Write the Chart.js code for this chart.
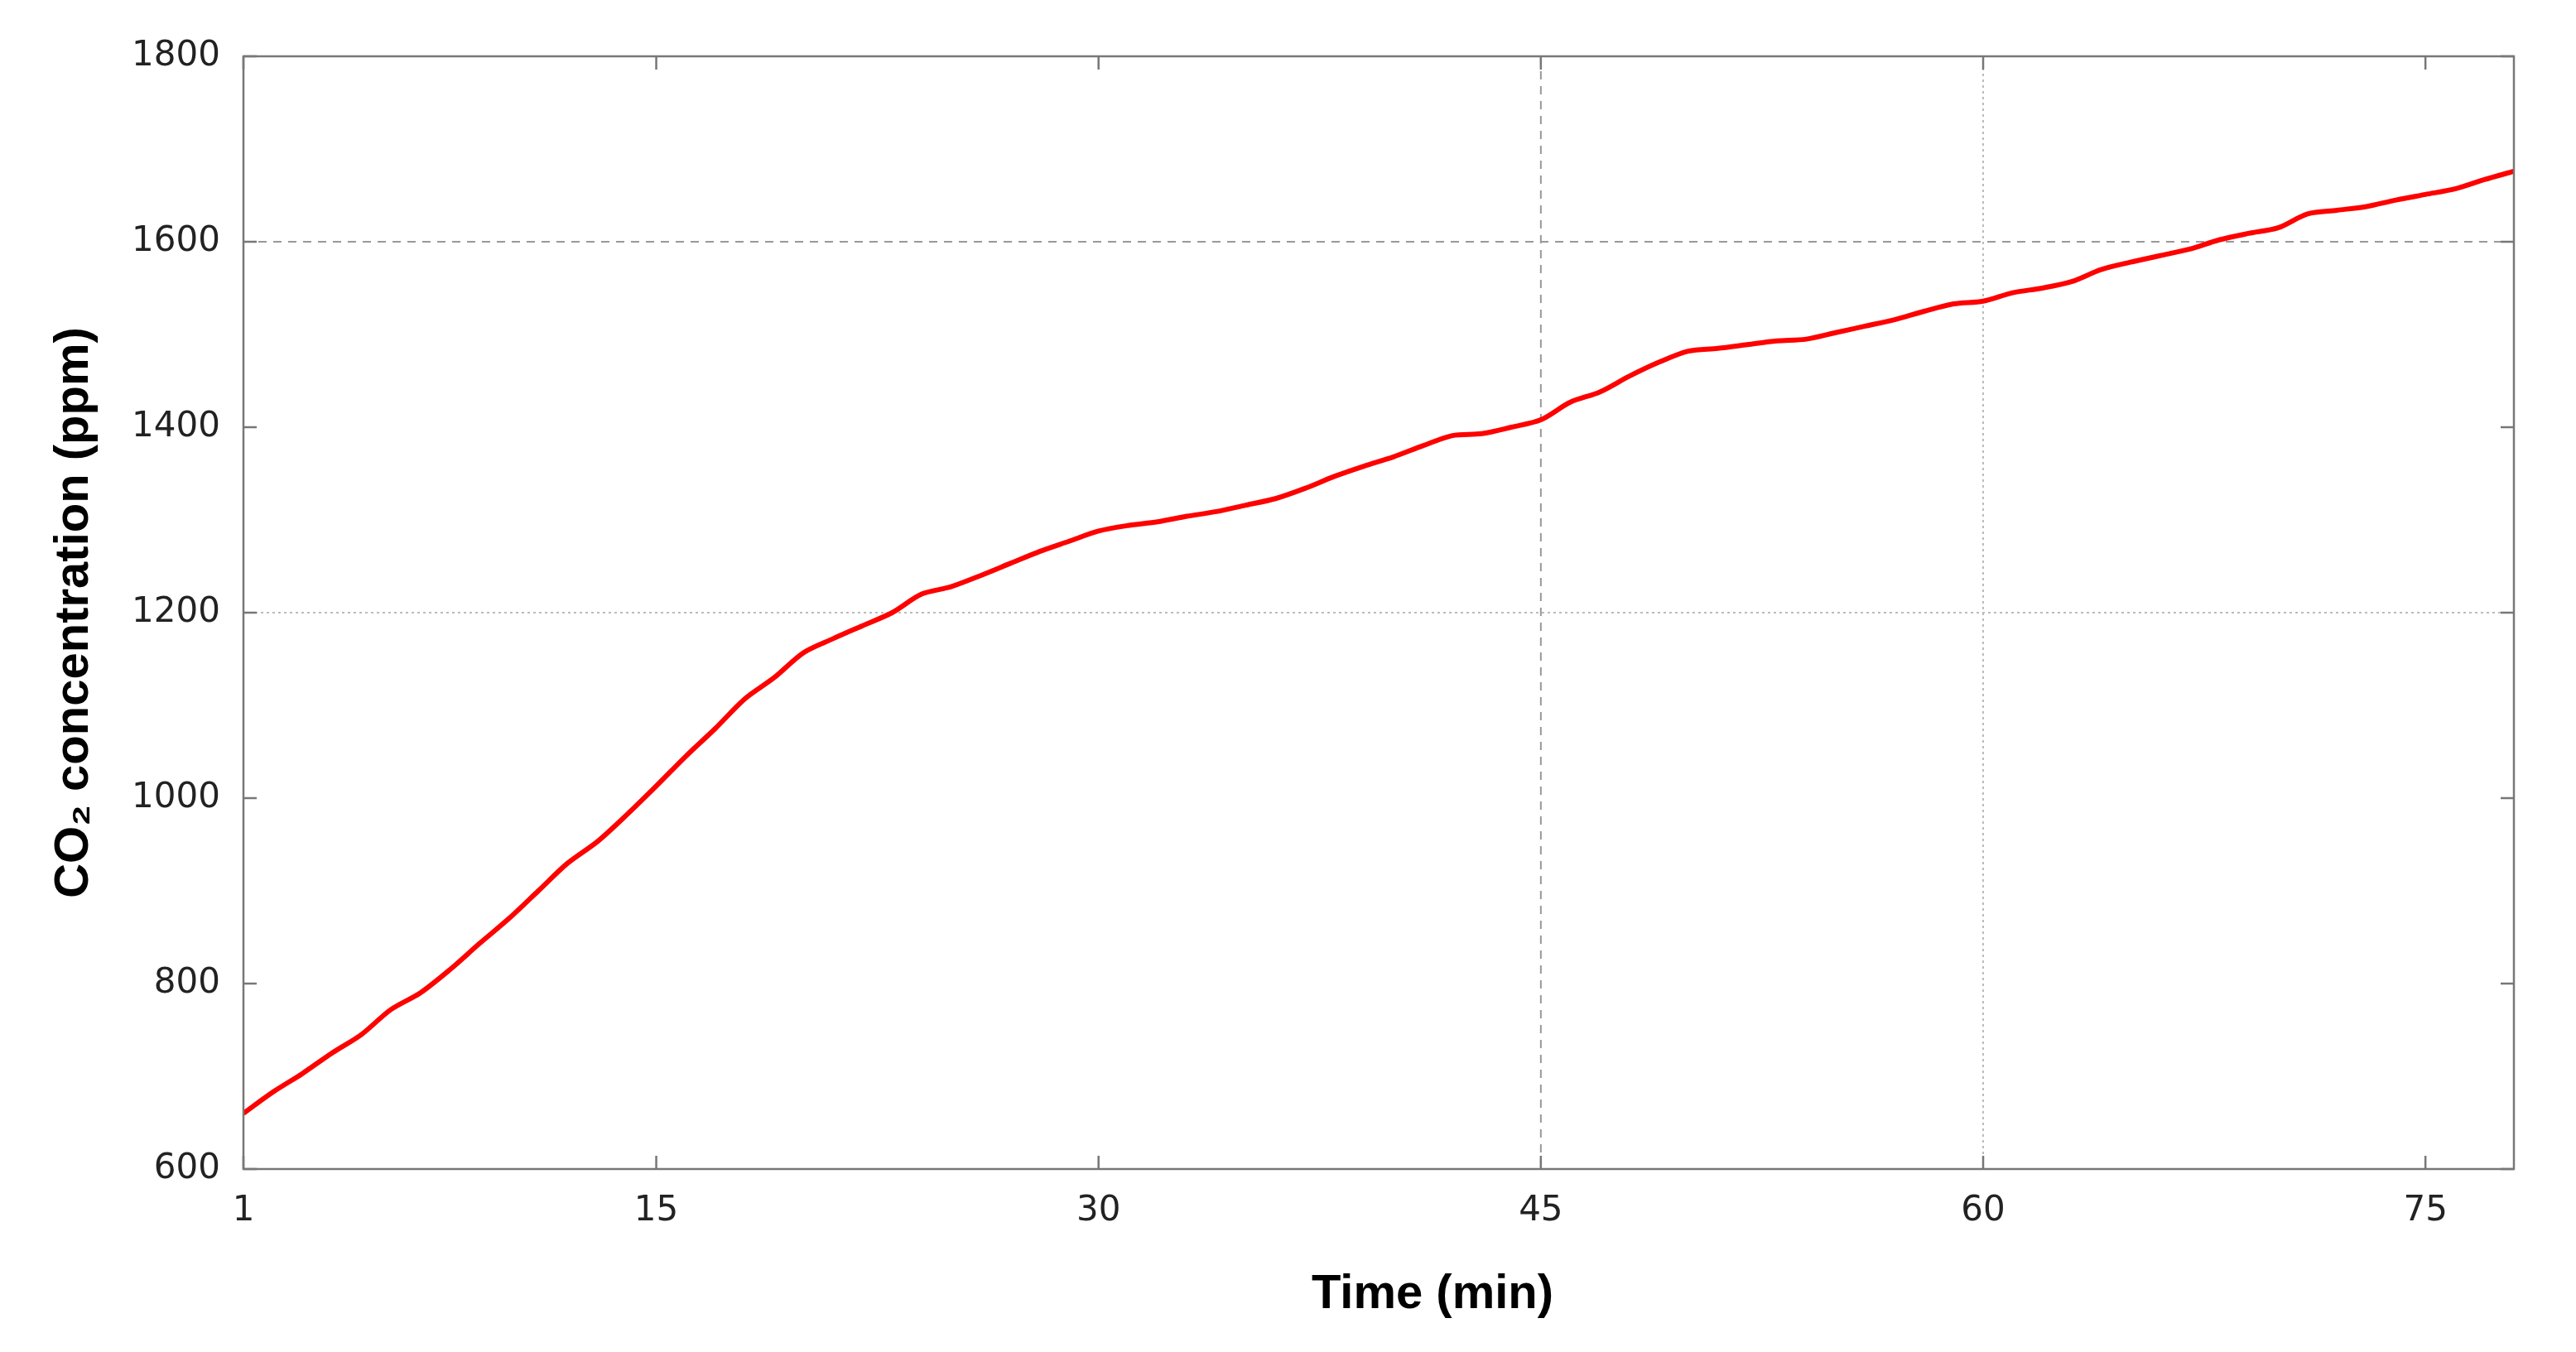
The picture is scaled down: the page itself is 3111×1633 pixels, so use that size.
<!DOCTYPE html>
<html>
<head>
<meta charset="utf-8">
<script src="https://cdn.jsdelivr.net/npm/chart.js@4"></script>
<style>
  html, body { margin: 0; padding: 0; background: #fff; }
  #wrap { width: 3111px; height: 1633px; }
</style>
</head>
<body>
<div id="wrap"><canvas id="chart"></canvas></div>
<script>
// minutes 1..78
const minutes = [];
for (let m = 1; m <= 78; m++) minutes.push(m);
const co2 = [660, 683, 703, 725, 745, 772, 790, 815, 843, 870, 900, 930, 953, 982, 1013,
    1045, 1075, 1107, 1130, 1157, 1172, 1186, 1200, 1220, 1228, 1240, 1253, 1266, 1277, 1288,
    1294, 1298, 1304, 1309, 1316, 1323, 1334, 1347, 1358, 1368, 1380, 1391, 1393, 1400, 1408,
    1427, 1438, 1455, 1470, 1482, 1485, 1489, 1493, 1495, 1502, 1509, 1516, 1525, 1533, 1536,
    1545, 1550, 1557, 1570, 1578, 1585, 1592, 1602, 1609, 1615, 1630, 1634, 1638, 1645, 1651,
    1657, 1667, 1676];
const xTicks = [1, 15, 30, 45, 60, 75];
const yTicks = [600, 800, 1000, 1200, 1400, 1600, 1800];
const xTitle = 'Time (min)';
const yTitle = 'CO\u2082 concentration (ppm)';

const framePlugin = {
    id: 'frame',
    beforeDatasetsDraw(chart) {
        const { ctx, chartArea: a, scales } = chart;
        const x = scales.x, y = scales.y;
        ctx.save();
        // selective grid lines as in the reference
        ctx.lineWidth = 2;
        ctx.strokeStyle = '#999';
        ctx.setLineDash([10, 8]);
        ctx.beginPath();
        ctx.moveTo(x.getPixelForValue(45), a.top); ctx.lineTo(x.getPixelForValue(45), a.bottom);
        ctx.moveTo(a.left, y.getPixelForValue(1600)); ctx.lineTo(a.right, y.getPixelForValue(1600));
        ctx.stroke();
        ctx.strokeStyle = '#bbb';
        ctx.setLineDash([3, 4]);
        ctx.beginPath();
        ctx.moveTo(x.getPixelForValue(60), a.top); ctx.lineTo(x.getPixelForValue(60), a.bottom);
        ctx.moveTo(a.left, y.getPixelForValue(1200)); ctx.lineTo(a.right, y.getPixelForValue(1200));
        ctx.stroke();
        ctx.restore();
    },
    afterDatasetsDraw(chart) {
        const { ctx, chartArea: a, scales } = chart;
        const x = scales.x, y = scales.y;
        ctx.save();
        ctx.strokeStyle = '#777';
        ctx.lineWidth = 2.5;
        ctx.strokeRect(a.left, a.top, a.right - a.left, a.bottom - a.top);
        // inward ticks
        const len = 16;
        ctx.beginPath();
        xTicks.forEach(v => {
            const px = x.getPixelForValue(v);
            ctx.moveTo(px, a.bottom); ctx.lineTo(px, a.bottom - len);
            ctx.moveTo(px, a.top); ctx.lineTo(px, a.top + len);
        });
        yTicks.forEach(v => {
            const py = y.getPixelForValue(v);
            ctx.moveTo(a.left, py); ctx.lineTo(a.left + len, py);
            ctx.moveTo(a.right, py); ctx.lineTo(a.right - len, py);
        });
        ctx.stroke();
        // axis titles
        ctx.fillStyle = '#000';
        ctx.font = 'bold 58px "Liberation Sans", Arial, sans-serif';
        ctx.textAlign = 'center';
        ctx.textBaseline = 'middle';
        ctx.fillText(xTitle, 1730, 1564);
        ctx.translate(90, (a.top + a.bottom) / 2);
        ctx.rotate(-Math.PI / 2);
        ctx.fillText(yTitle, 0, 0);
        ctx.restore();
    }
};

new Chart(document.getElementById('chart'), {
    type: 'line',
    data: {
        datasets: [{
            data: minutes.map((m, i) => ({ x: m, y: co2[i] })),
            borderColor: '#ff0000',
            borderWidth: 6,
            pointRadius: 0,
            tension: 0.3,
            fill: false
        }]
    },
    options: {
        responsive: true,
        maintainAspectRatio: false,
        animation: false,
        devicePixelRatio: 1,
        layout: { padding: { left: 0, top: 68, right: 75, bottom: 0 } },
        plugins: { legend: { display: false }, tooltip: { enabled: false } },
        scales: {
            x: {
                type: 'linear', min: 1, max: 78,
                afterBuildTicks: s => { s.ticks = xTicks.map(v => ({ value: v })); },
                afterFit: s => { s.height = 221; },
                grid: { display: false },
                border: { display: false },
                ticks: { padding: 18, color: '#222', callback: v => String(v),
                    font: { size: 42, family: '"DejaVu Sans", sans-serif' } }
            },
            y: {
                type: 'linear', min: 600, max: 1800,
                afterBuildTicks: s => { s.ticks = yTicks.map(v => ({ value: v })); },
                afterFit: s => { s.width = 294; },
                grid: { display: false },
                border: { display: false },
                ticks: { padding: 20, color: '#222', callback: v => String(v),
                    font: { size: 42, family: '"DejaVu Sans", sans-serif' } }
            }
        }
    },
    plugins: [framePlugin]
});
</script>
</body>
</html>
